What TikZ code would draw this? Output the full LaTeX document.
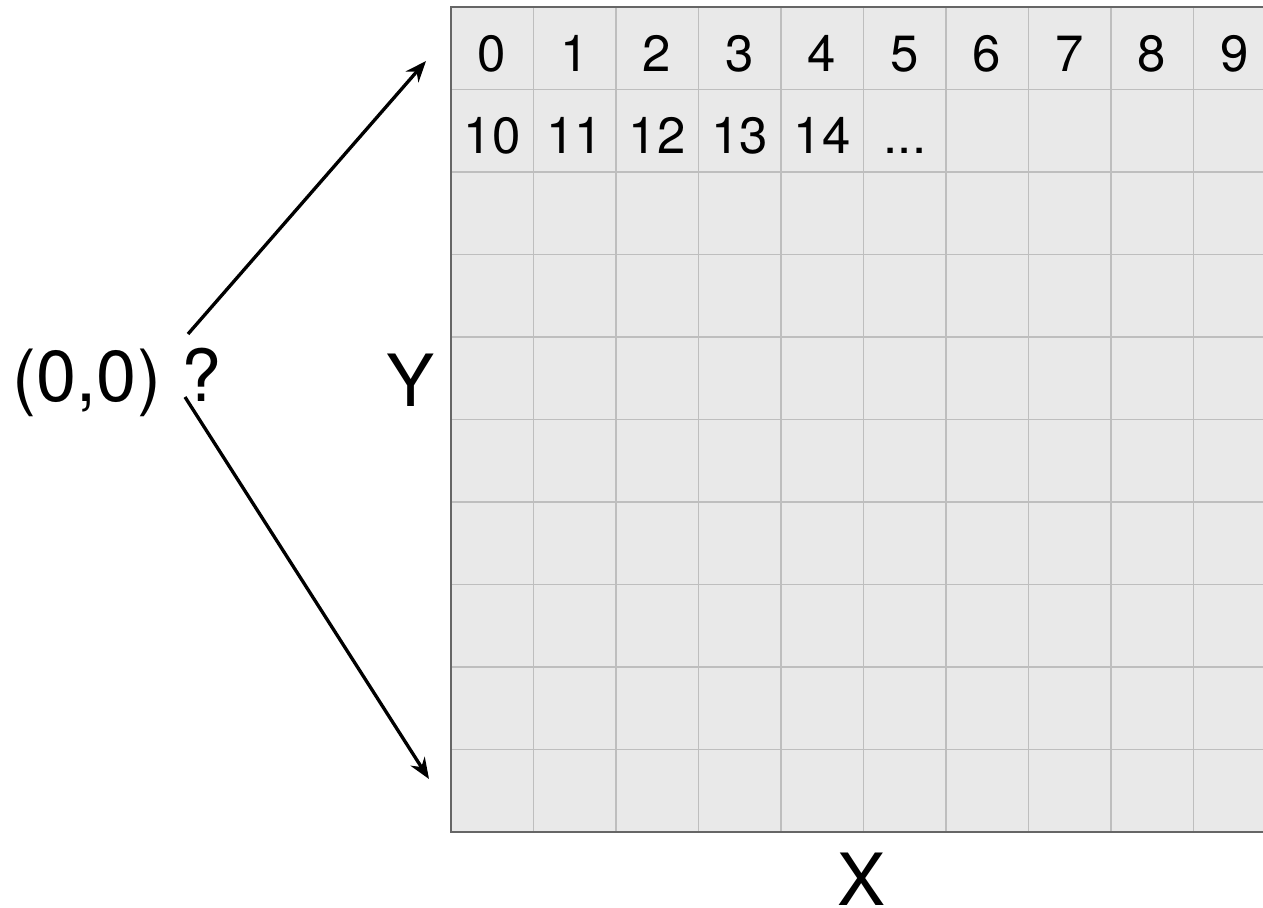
\documentclass[tikz,border=0pt]{standalone}
\usepackage{fontspec}
\setmainfont{TeX Gyre Heros}
\usetikzlibrary{arrows.meta}
\definecolor{cellfill}{HTML}{E9E9E9}
\definecolor{gridline}{HTML}{BEBEBE}
\definecolor{gridedge}{HTML}{666666}

\begin{document}
\begin{tikzpicture}[x=0.02cm,y=-0.02cm,
  num/.style={anchor=base,inner sep=0pt,font=\fontsize{29}{34}\selectfont},
  big/.style={anchor=base,inner sep=0pt,font=\fontsize{41}{48}\selectfont},
  ptr/.style={line width=1.9pt,-{Stealth[length=12pt,width=9.5pt]}}]
  \useasboundingbox (0,0) rectangle (1263,907);
  \begin{scope}
    \clip (0,0) rectangle (1263,907);
    \fill[cellfill] (451,7) rectangle (1276,832);
    \foreach \i in {1,...,9}
      \draw[gridline,line width=1.1pt] (451+82.5*\i,7) -- (451+82.5*\i,832);
    \foreach \j in {1,...,9}
      \draw[gridline,line width=1.1pt] (451,7+82.5*\j) -- (1276,7+82.5*\j);
    \draw[gridedge,line width=1.2pt] (1276,7) -- (451,7) -- (451,832) -- (1276,832);
  \end{scope}
  \foreach \n in {0,...,9}
    \node[num] (c\n) at (492+82.5*\n,71) {\n};
  \foreach \n/\k in {10/0,11/1,12/2,13/3,14/4}
    \node[num] (c\n) at (492+82.5*\k,153) {\n};
  \node[num] (more) at (905,153) {...};
  \node[big] (origin) at (117,401) {(0,0) ?};
  \node[big] (ylab) at (411,406) {Y};
  \node[big] (xlab) at (862,905) {X};
  \coordinate (upfrom) at (188,334);
  \coordinate (upto) at (426,61);
  \coordinate (downfrom) at (185,397);
  \coordinate (downto) at (429,779);
  \draw[ptr] (upfrom) -- (upto);
  \draw[ptr] (downfrom) -- (downto);
\end{tikzpicture}
\end{document}
